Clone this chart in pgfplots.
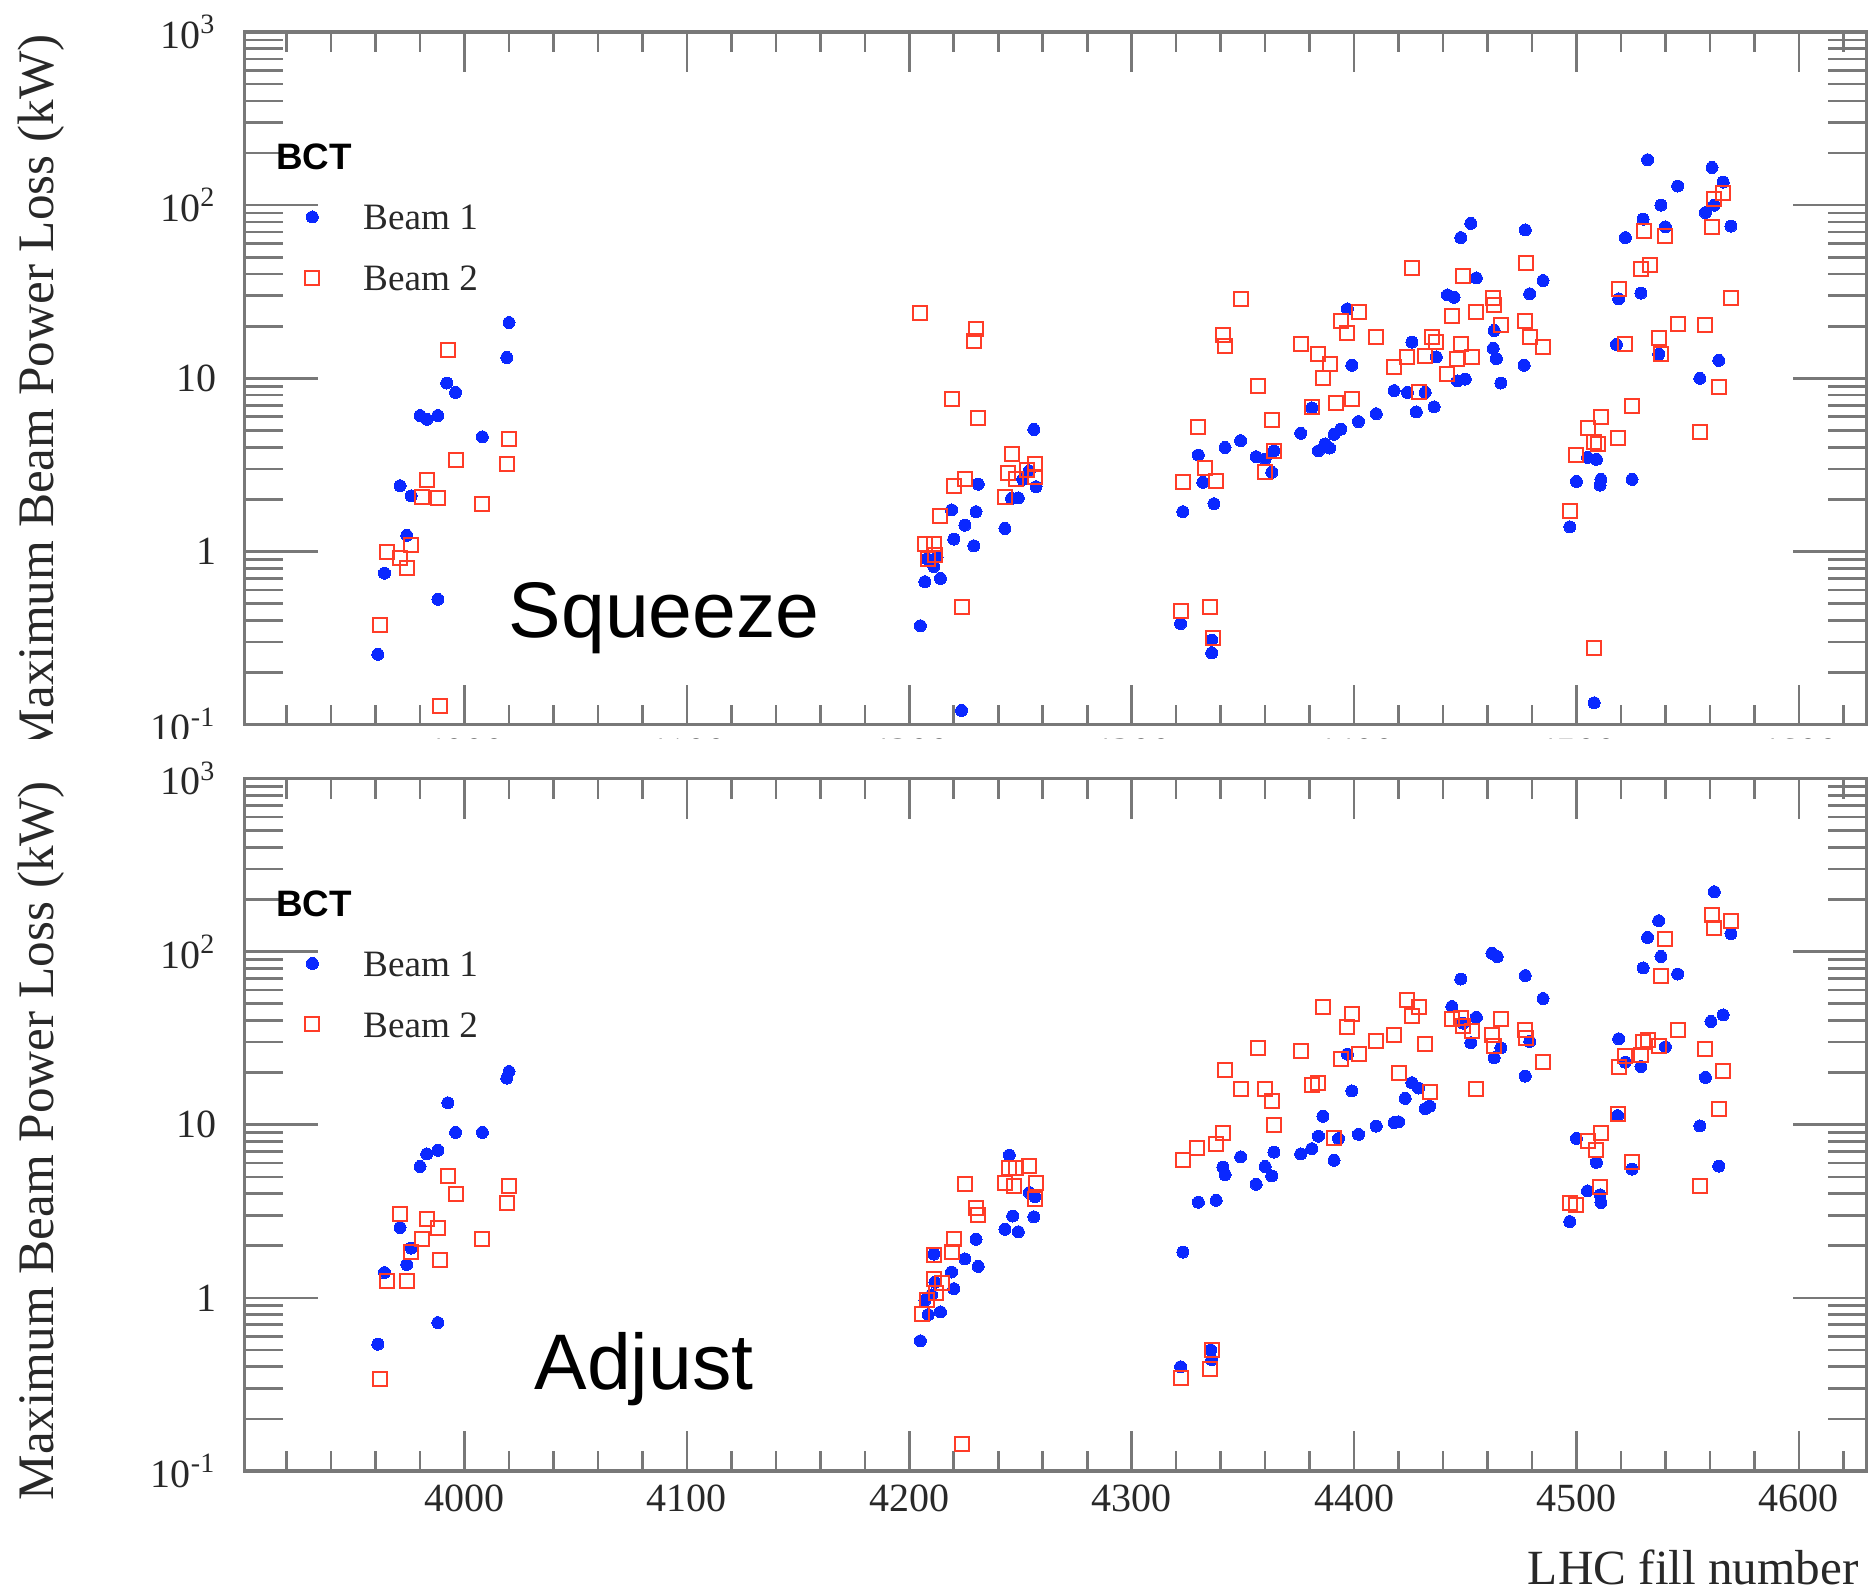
\documentclass[border=0pt]{standalone}
\usepackage{pgfplots}
\pgfplotsset{compat=1.18}
\usepackage{pgfplotstable}
\usepackage{fontspec}
\setmainfont{Liberation Serif}
\newfontfamily\helv{Liberation Sans}

\definecolor{beamone}{RGB}{10,40,255}
\definecolor{beamtwo}{RGB}{255,60,40}
\definecolor{axgray}{RGB}{120,120,120}
\definecolor{txt}{RGB}{40,40,40}

% Squeeze, beam 1
\pgfplotstableread{
x y
3961 0.255
3964 0.75
3971 2.4
3976 2.1
3974 1.24
3980 6.1
3983 5.8
3988 6.1
3988 0.53
3992 9.4
3996 8.3
4008 4.6
4020 21
4019 13.2
4256 5.07
4231 2.45
4254 2.93
4251 2.61
4257 2.37
4246 2.03
4249 2.04
4243 1.36
4219 1.74
4230 1.70
4225 1.42
4220 1.18
4229 1.08
4208 0.91
4212.5 0.93
4211 0.82
4207 0.67
4214 0.70
4205 0.373
4223.5 0.121
4322 0.384
4336 0.308
4336 0.26
4323 1.70
4337 1.89
4332 2.51
4330 3.61
4342 3.99
4349 4.37
4356 3.53
4360 3.42
4363 2.87
4364 3.82
4376 4.82
4381 6.76
4384 3.82
4387 4.18
4389 3.96
4391 4.75
4394 5.09
4397 25.2
4399 11.9
4402 5.63
4410 6.25
4418 8.5
4424 8.3
4426 16.2
4428 6.4
4432 8.3
4436 6.85
4437 13.3
4442 30.3
4445 29.4
4448 65
4452.5 78.5
4455 38
4446.5 9.66
4450 9.9
4463 18.9
4462.6 14.9
4464 13.0
4466 9.4
4477 72
4479 30.8
4476.5 11.9
4485 36.7
4532 183
4561 165
4566 136
4545.5 129
4538 100
4530 83
4540 75
4558 90.6
4562 100
4569.5 75.8
4522 65
4529 31.1
4519 28.8
4518 15.7
4537 13.8
4564 12.7
4555.5 10.0
4505 3.5
4509 3.41
4500 2.54
4511 2.61
4510.6 2.42
4525 2.61
4497 1.39
4508 0.134
}\sqzone

% Squeeze, beam 2
\pgfplotstableread{
x y
3962 0.375
3965 1.0
3971 0.92
3976 1.09
3974 0.80
3981 2.07
3983 2.59
3988 2.04
3992.5 14.5
3989 0.129
3996 3.4
4008 1.88
4020 4.45
4019 3.2
4205 24
4230 19.4
4229 16.4
4219 7.6
4231 5.9
4246 3.65
4256.5 3.19
4244.5 2.85
4248 2.64
4253 2.95
4256.5 2.7
4225 2.64
4220 2.39
4243 2.07
4214 1.61
4207 1.11
4211 1.10
4208.5 0.91
4211.5 0.95
4223.5 0.48
4322 0.455
4335 0.477
4336.4 0.316
4323 2.53
4338 2.56
4333 3.04
4330 5.26
4349 28.6
4341 17.7
4342 15.3
4357 9.0
4363 5.78
4364 3.82
4360 2.87
4381 6.85
4376 15.8
4384 13.9
4389 12.1
4386 10.0
4392 7.24
4399 7.6
4394 21.3
4397 18.2
4402 24.1
4410 17.3
4418 11.7
4424 13.2
4426 43.4
4429 8.3
4432 13.5
4435 17.3
4437 16.2
4442 10.6
4444 23.0
4448 15.7
4446.5 13.0
4453 13.2
4449 39
4455 24.1
4462.6 29
4463 26.4
4466 20.4
4477 21.3
4477.3 46.1
4479 17.3
4485 15.1
4530.5 71
4540 66.8
4561 74.6
4562 109
4566 117
4529 42.7
4533 45.2
4519 32.7
4522 15.7
4537 17.1
4538 13.8
4545.5 20.7
4558 20.2
4569.5 29.3
4564 8.96
4555.5 4.92
4525 6.95
4511 5.97
4505 5.18
4518.5 4.51
4509.5 4.18
4508 4.28
4500 3.62
4497 1.72
4508 0.278
}\sqztwo

% Adjust, beam 1
\pgfplotstableread{
x y
3961 0.54
3964 1.40
3971 2.55
3974 1.56
3976 1.94
3980 5.74
3983 6.78
3988 7.12
3988 0.72
3992.5 13.4
3996 9.04
4008 9.04
4020 20.3
4019 18.6
4245 6.68
4254 4.06
4256.5 3.84
4246.5 2.97
4256 2.94
4243 2.49
4249 2.41
4230 2.18
4225 1.68
4231 1.52
4219 1.41
4211 1.79
4220 1.13
4211.5 1.23
4210 1.04
4207 0.97
4208.5 0.80
4214 0.83
4205 0.565
4322 0.40
4335.5 0.50
4336 0.44
4323 1.84
4330 3.57
4338 3.66
4341 5.69
4342 5.15
4349 6.53
4356 4.53
4360 5.74
4363 5.06
4364 6.95
4376 6.79
4381 7.28
4384 8.6
4386 11.2
4391 6.23
4393 8.32
4397 25.6
4399 15.7
4402 8.81
4410 9.82
4418 10.3
4420 10.4
4423 14.2
4426 17.5
4429 16.3
4432 12.4
4434 12.8
4444 48.2
4448 69.5
4449 38.7
4452.5 29.8
4455 41.8
4462 97.8
4464.4 93.7
4463 24.4
4466 27.8
4477 72.8
4477 19.1
4479 30.3
4485 53.6
4562 222
4537 151
4532 121
4538 93.8
4530 80.5
4545.5 74.3
4569.5 127
4566 43.1
4560.5 39.5
4519 31.4
4540 28.2
4522 23
4529 21.7
4558 18.8
4518.5 11.3
4555.5 9.84
4564 5.77
4500 8.33
4509 6.07
4525 5.54
4505 4.15
4511 3.56
4510.6 3.94
4497 2.76
}\adjone

% Adjust, beam 2
\pgfplotstableread{
x y
3962 0.34
3965 1.26
3974 1.26
3971 3.06
3976 1.84
3981 2.19
3983 2.85
3988 2.55
3989 1.66
3992.5 5.04
3996 4.0
4008 2.19
4020 4.45
4019 3.51
4225 4.53
4230 3.30
4231 3.02
4220 2.19
4219 1.85
4211 1.77
4211 1.29
4214.5 1.22
4212 1.06
4208 0.97
4205.5 0.81
4223.5 0.144
4245 5.65
4248 5.6
4254 5.78
4243 4.63
4247 4.43
4257 4.63
4256.5 3.71
4322 0.344
4335 0.388
4336 0.50
4323 6.23
4329.5 7.39
4338 7.75
4341 9.02
4342 20.7
4349 16.1
4357 27.6
4360 16.2
4363 13.8
4364 10.0
4376 26.6
4381 16.9
4384 17.4
4386 48.2
4391 8.4
4394 23.9
4397 36.6
4399 43.8
4402 25.6
4410 30.6
4418 33
4420 20
4424 52.3
4426 42.6
4429 48.2
4432 29.3
4434 15.4
4444 40.6
4448 41.2
4449 37
4453 34.6
4455 16.1
4462 33
4463 28.6
4466 40.6
4477 35.2
4477.3 31.8
4485 23.2
4561 162
4562 137
4569.5 151
4540 118
4538 72.3
4545.5 35.2
4530 29.9
4532 31
4537 28.7
4529 25.3
4522 25
4519 21.7
4558 27.5
4566 20.4
4564 12.4
4555.5 4.41
4518.5 11.5
4511 9.0
4505 8.1
4509 7.14
4525 6.07
4510.6 4.36
4497 3.52
4500 3.42
}\adjtwo

\pgfplotsset{
  lhcframe/.style={
    scale only axis, width=405.5pt, height=173.2pt,
    xmin=3901, xmax=4630.4, ymin=0.1, ymax=1000,
    axis line style={draw=axgray, line width=0.8pt},
    tick align=inside, tick pos=both,
    every tick/.style={draw=axgray, line width=0.65pt},
    tick label style={font=\fontsize{10}{12}\selectfont, text=txt},
  },
  lhcxticks/.style={
    xtick={4000,4100,4200,4300,4400,4500,4600},
    xticklabels={4000,4100,4200,4300,4400,4500,4600},
    minor xtick={3920,3940,...,4620},
    major tick length=10pt, minor tick length=5pt,
    ytick=\empty, yminorticks=false,
  },
  lhclegend/.style={
    legend style={draw=none, fill=none, at={(axis description cs:0.0106,0.7517)},
      anchor=north west, inner sep=0pt, outer sep=0pt,
      font=\fontsize{9.3}{11}\selectfont, text=txt,
      row sep=8.7pt, column sep=0pt,
      nodes={inner sep=0pt, text height=6.5pt, text depth=0pt}},
    legend cell align=left,
  },
  lhcyticks/.style={
    xtick=\empty, xminorticks=false,
    ytick={0.1,1,10,100,1000},
    yticklabels={10\textsuperscript{-1},1,10,10\textsuperscript{2},10\textsuperscript{3}},
    minor ytick={0.2,0.3,0.4,0.5,0.6,0.7,0.8,0.9,2,3,4,5,6,7,8,9,20,30,40,50,60,70,80,90,200,300,400,500,600,700,800,900},
    major tick length=18.3pt, minor tick length=9.6pt,
    yticklabel style={xshift=-3.5pt},
    ylabel={Maximum Beam Power Loss (kW)},
    ylabel style={at={(axis description cs:-0.1255,0.477)}, anchor=center,
      font=\fontsize{12.8}{15}\selectfont, text=txt},
  },
  beam1/.style={only marks, mark=*, mark size=1.5pt, color=beamone,
    mark options={draw=beamone, fill=beamone, line width=0pt}},
  beam2/.style={only marks, mark=square, mark size=1.75pt, color=beamtwo,
    mark options={line width=0.5pt}},
}

\begin{document}
\begin{tikzpicture}
\useasboundingbox (0pt,0pt) rectangle (467pt,398pt);

% upper panel, cut off just below its axis as in the original
\begin{scope}
\clip (0pt,213.3pt) rectangle (467pt,398pt);
\begin{semilogyaxis}[lhcframe, lhcyticks, at={(61.1pt,216.8pt)}, anchor=south west]
\end{semilogyaxis}
\begin{semilogyaxis}[lhcframe, lhcxticks, lhclegend, at={(61.1pt,216.8pt)}, anchor=south west,
  legend image code/.code={\draw[#1] plot coordinates {(0pt,0pt)}; \path (-12.5pt,0pt) (12.5pt,0pt);}]
\addplot[beam1] table {\sqzone};
\addlegendentry{Beam 1}
\addplot[beam2] table {\sqztwo};
\addlegendentry{Beam 2}
\node[anchor=base west, inner sep=0pt, font=\helv\bfseries\fontsize{9.2}{11}\selectfont]
  at (axis description cs:0.0192,0.8012) {BCT};
\node[anchor=base west, inner sep=0pt, font=\helv\fontsize{19.7}{22}\selectfont]
  at (axis description cs:0.1625,0.1266) {Squeeze};
\end{semilogyaxis}
\end{scope}

% lower panel
\begin{semilogyaxis}[lhcframe, lhcyticks, at={(61.1pt,30.25pt)}, anchor=south west, height=173.1pt]
\end{semilogyaxis}
\begin{semilogyaxis}[lhcframe, lhcxticks, lhclegend, at={(61.1pt,30.25pt)}, anchor=south west, height=173.1pt,
  legend image code/.code={\draw[#1] plot coordinates {(0pt,0pt)}; \path (-12.5pt,0pt) (12.5pt,0pt);},
  xlabel={LHC fill number},
  xlabel style={at={(axis description cs:0.9957,-0.1646)}, anchor=base east,
    inner sep=0pt, font=\fontsize{12.3}{14}\selectfont, text=txt}]
\addplot[beam1] table {\adjone};
\addlegendentry{Beam 1}
\addplot[beam2] table {\adjtwo};
\addlegendentry{Beam 2}
\node[anchor=base west, inner sep=0pt, font=\helv\bfseries\fontsize{9.2}{11}\selectfont]
  at (axis description cs:0.0192,0.8006) {BCT};
\node[anchor=base west, inner sep=0pt, font=\helv\fontsize{19.7}{22}\selectfont]
  at (axis description cs:0.1784,0.117) {Adjust};
\end{semilogyaxis}
\end{tikzpicture}
\end{document}
